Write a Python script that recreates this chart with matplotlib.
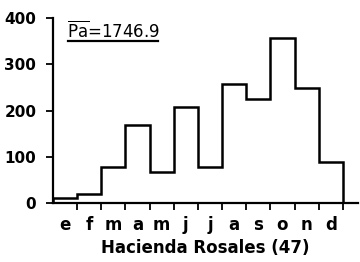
import matplotlib

matplotlib.use("Agg")
import matplotlib.pyplot as plt  # noqa: E402
import numpy as np  # noqa: E402

# monthly values (Jan..Dec)
months = ["e", "f", "m", "a", "m", "j", "j", "a", "s", "o", "n", "d"]
values = [10, 20, 78, 168, 68, 208, 78, 257, 225, 357, 250, 88]
yticks = [0, 100, 200, 300, 400]
annual = "1746.9"
station = "Hacienda Rosales (47)"

fig = plt.figure(figsize=(3.6, 2.62), dpi=100)
ax = fig.add_axes([0.147, 0.225, 0.847, 0.714])

edges = np.arange(len(values) + 1)
ax.stairs(values, edges, baseline=0, color="black", lw=1.8)

ax.set_xlim(0, 12.62)
ax.set_ylim(0, 405)
for s in ("top", "right"):
    ax.spines[s].set_visible(False)
ax.spines["left"].set_linewidth(1.6)
ax.spines["bottom"].set_linewidth(1.6)
ax.spines["left"].set_bounds(0, 400)

ax.set_yticks(yticks)
ax.set_yticklabels([str(v) for v in yticks], fontsize=11, fontweight="bold")
ax.tick_params(axis="y", direction="out", length=5, width=1.3, pad=7)

ax.set_xticks(edges[1:])
ax.set_xticklabels([])
ax.tick_params(axis="x", which="major", direction="out", length=5, width=1.3)
ax.set_xticks(edges[:-1] + 0.5, minor=True)
ax.set_xticklabels(months, minor=True, fontsize=12, fontweight="bold")
ax.tick_params(axis="x", which="minor", length=0, pad=9)

ax.set_xlabel(station, fontsize=12, fontweight="bold", labelpad=4)

ax.text(0.045, 0.92, r"$\overline{\mathrm{Pa}}$=" + annual,
        transform=ax.transAxes, fontsize=12, va="center", ha="left")
ax.plot([0.048, 0.345], [0.865, 0.865], transform=ax.transAxes,
        color="black", lw=1.6, clip_on=False)

fig.savefig("out.png", dpi=100)
